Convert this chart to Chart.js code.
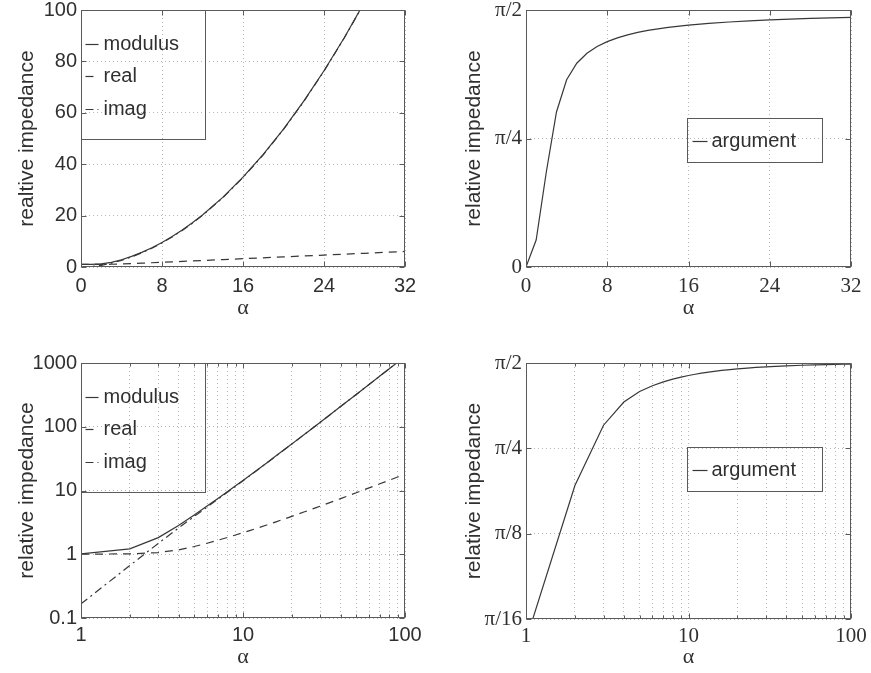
<!DOCTYPE html>
<html>
<head>
<meta charset="utf-8">
<script src="https://cdn.jsdelivr.net/npm/chart.js@4.4.1/dist/chart.umd.min.js"></script>
<style>
  html, body { margin: 0; padding: 0; background: #fff; }
  #wrap { position: relative; width: 871px; height: 673px; overflow: hidden; background: #fff; }
  #wrap canvas { position: absolute; }
</style>
</head>
<body>
<div id="wrap">
  <canvas id="tl" width="435" height="330" style="left:0;top:0"></canvas>
  <canvas id="tr" width="431" height="330" style="left:440px;top:0"></canvas>
  <canvas id="bl" width="435" height="333" style="left:0;top:340px"></canvas>
  <canvas id="br" width="431" height="333" style="left:440px;top:340px"></canvas>
</div>
<script>
// Womersley number alpha and the relative impedance Z / Z_poiseuille
const alpha = [0, 1, 2, 3, 4, 5, 6, 7, 8, 9, 10, 11, 12,
  14, 16, 18, 20, 22, 24, 26, 28, 30, 32,
  40, 50, 60, 70, 80, 90, 100];
const modulus = [1, 1.0147, 1.2122, 1.8236, 2.8321, 4.1357, 5.6900, 7.4920, 9.5434, 11.8444, 14.3960, 17.1975, 20.2491,
  27.1019, 34.9550, 43.8086, 53.6619, 64.5152, 76.3685, 89.2220, 103.0754, 117.9289, 133.7824,
  207.196, 321.464, 460.732, 624.999, 814.267, 1028.535, 1267.803];
const realPart = [1, 1.0009, 1.0136, 1.0641, 1.1714, 1.3224, 1.4895, 1.6596, 1.8312, 2.0038, 2.1771, 2.3510, 2.5253,
  2.8748, 3.2253, 3.5766, 3.9282, 4.2802, 4.6324, 4.9848, 5.3374, 5.6901, 6.0429,
  7.4549, 9.2209, 10.9875, 12.7545, 14.5215, 16.2888, 18.0562];
const imagPart = [0, 0.1666, 0.6649, 1.4810, 2.5785, 3.9186, 5.4916, 7.3059, 9.3661, 11.6737, 14.2304, 17.0360, 20.0910,
  26.9490, 34.8059, 43.6623, 53.5179, 64.3730, 76.2279, 89.0826, 102.9371, 117.7915, 133.6458,
  207.0622, 321.3318, 460.6007, 624.8693, 814.1377, 1028.4060, 1267.6742];
const argument = [0, 0.1651, 0.5808, 0.9477, 1.1443, 1.2454, 1.3060, 1.3474, 1.3777, 1.4008, 1.4190, 1.4337, 1.4458,
  1.4645, 1.4784, 1.4891, 1.4975, 1.5044, 1.5101, 1.5149, 1.5190, 1.5225, 1.5256,
  1.5348, 1.5421, 1.5469, 1.5504, 1.5530, 1.5550, 1.5566];

// axis ticks
const linAlphaTicks = [0, 8, 16, 24, 32];
const linAlphaLabels = ['0', '8', '16', '24', '32'];
const linImpTicks = [0, 20, 40, 60, 80, 100];
const linImpLabels = ['0', '20', '40', '60', '80', '100'];
const argLinTicks = [0, Math.PI / 4, Math.PI / 2];
const argLinLabels = ['0', 'π/4', 'π/2'];
const logAlphaTicks = [1, 2, 3, 4, 5, 6, 7, 8, 9, 10, 20, 30, 40, 50, 60, 70, 80, 90, 100];
const logAlphaLabels = ['1', '', '', '', '', '', '', '', '', '10', '', '', '', '', '', '', '', '', '100'];
const logImpTicks = [0.1, 1, 10, 100, 1000];
const logImpLabels = ['0.1', '1', '10', '100', '1000'];
const argLogTicks = [Math.PI / 16, Math.PI / 8, Math.PI / 4, Math.PI / 2];
const argLogLabels = ['π/16', 'π/8', 'π/4', 'π/2'];

const INK = '#303030';
const LINE = '#383838';
const FRAME = '#5a5a5a';
const GRID = '#b8b8b8';
const SANS = "'Liberation Sans', Arial, Helvetica, sans-serif";
const SERIF = "'Liberation Serif', 'Times New Roman', serif";

function points(values, logX) {
  return alpha.map((a, i) => ({ x: a, y: values[i] })).filter(p => !logX || p.x > 0);
}

function labelFor(ticks, labels) {
  return v => {
    const i = ticks.findIndex(t => Math.abs(t - v) <= 1e-9 * Math.max(1, Math.abs(t)));
    return i >= 0 ? labels[i] : '';
  };
}

// box around the plot area with inward tick marks on all four sides
const framePlugin = {
  id: 'frame',
  afterDatasetsDraw(chart) {
    const { ctx, chartArea: a, scales } = chart;
    const L = Math.round(a.left) + 0.5, R = Math.round(a.right) - 0.5;
    const T = Math.round(a.top) + 0.5, B = Math.round(a.bottom) - 0.5;
    ctx.save();
    ctx.strokeStyle = FRAME;
    ctx.lineWidth = 1;
    ctx.setLineDash([]);
    ctx.strokeRect(L, T, R - L, B - T);
    ctx.beginPath();
    scales.x.ticks.forEach(t => {
      const px = Math.round(scales.x.getPixelForValue(t.value)) + 0.5;
      const len = t.label ? 5 : 3;
      ctx.moveTo(px, B); ctx.lineTo(px, B - len);
      ctx.moveTo(px, T); ctx.lineTo(px, T + len);
    });
    scales.y.ticks.forEach(t => {
      const py = Math.round(scales.y.getPixelForValue(t.value)) + 0.5;
      const len = t.label ? 5 : 3;
      ctx.moveTo(L, py); ctx.lineTo(L + len, py);
      ctx.moveTo(R, py); ctx.lineTo(R - len, py);
    });
    ctx.stroke();
    ctx.restore();
  }
};

// framed legend placed inside the plot area
const boxLegend = {
  id: 'boxLegend',
  afterDraw(chart, args, o) {
    const { ctx, chartArea: a } = chart;
    const x0 = Math.round(a.left + o.x) + 0.5, y0 = Math.round(a.top + o.y) + 0.5;
    ctx.save();
    ctx.strokeStyle = FRAME;
    ctx.lineWidth = 1;
    ctx.strokeRect(x0, y0, o.w, o.h);
    ctx.font = '20px ' + SANS;
    ctx.textBaseline = 'middle';
    ctx.fillStyle = INK;
    chart.data.datasets.forEach((ds, i) => {
      const cy = Math.round(y0 + o.first + i * o.row) + 0.5;
      ctx.strokeStyle = ds.borderColor;
      ctx.lineWidth = ds.borderWidth;
      ctx.setLineDash(ds.borderDash || []);
      ctx.beginPath();
      ctx.moveTo(x0 + o.s0, cy); ctx.lineTo(x0 + o.s1, cy);
      ctx.stroke();
      ctx.setLineDash([]);
      ctx.fillText(ds.label, x0 + o.tx, cy);
    });
    ctx.restore();
  }
};

function dataset(label, values, dash, logX) {
  return {
    label, data: points(values, logX),
    borderColor: LINE, borderWidth: 1.2, borderDash: dash,
    pointRadius: 0, tension: 0, fill: false
  };
}

function xAxis(type, min, max, ticks, labels, font, height, padTick, padTitle) {
  return {
    type, min, max, position: 'bottom',
    afterBuildTicks: s => { s.ticks = ticks.map(v => ({ value: v })); },
    afterFit: s => { s.height = height; s.paddingLeft = 0; s.paddingRight = 0; },
    ticks: { autoSkip: false, maxRotation: 0, minRotation: 0, padding: padTick, color: INK, font,
             callback: labelFor(ticks, labels) },
    grid: { color: GRID, lineWidth: 1, drawTicks: false },
    border: { display: false, dash: [1, 3] },
    title: { display: true, text: 'α', color: INK, font: { family: SERIF, size: 22 },
             padding: { top: 0, bottom: padTitle } }
  };
}

function yAxis(type, min, max, ticks, labels, font, width, title, padTitle) {
  return {
    type, min, max, position: 'left',
    afterBuildTicks: s => { s.ticks = ticks.map(v => ({ value: v })); },
    afterFit: s => { s.width = width; s.paddingTop = 0; s.paddingBottom = 0; },
    ticks: { autoSkip: false, padding: 4, color: INK, font, callback: labelFor(ticks, labels) },
    grid: { color: GRID, lineWidth: 1, drawTicks: false },
    border: { display: false, dash: [1, 3] },
    title: { display: true, text: title, color: INK, font: { family: SANS, size: 21 },
             padding: { top: padTitle, bottom: 0 } }
  };
}

function makeChart(id, datasets, scales, padding, legendBox) {
  return new Chart(document.getElementById(id), {
    type: 'line',
    data: { datasets },
    options: {
      responsive: false, animation: false, events: [],
      layout: { padding },
      plugins: { legend: { display: false }, tooltip: { enabled: false }, boxLegend: legendBox },
      scales
    },
    plugins: [framePlugin, boxLegend]
  });
}

const sansTick = { family: SANS, size: 20 };
const serifTick = { family: SERIF, size: 21 };
const dashReal = [8, 6];
const dashImag = [8, 4, 2, 4];
const threeRows = { x: 0, y: 0, w: 124, h: 129, first: 33, row: 32.5, s0: 4, s1: 17, tx: 22 };
const oneRow = { w: 135, h: 44, first: 22, row: 0, s0: 5, s1: 20, tx: 24 };

// linear scales
makeChart('tl', [
  dataset('modulus', modulus, [], false),
  dataset('real', realPart, dashReal, false),
  dataset('imag', imagPart, dashImag, false)
], {
  x: xAxis('linear', 0, 32, linAlphaTicks, linAlphaLabels, sansTick, 63, 7, 9),
  y: yAxis('linear', 0, 100, linImpTicks, linImpLabels, sansTick, 81, 'realtive impedance', 15)
}, { left: 0, top: 10, right: 30, bottom: 0 }, threeRows);

makeChart('tr', [
  dataset('argument', argument, [], false)
], {
  x: xAxis('linear', 0, 32, linAlphaTicks, linAlphaLabels, serifTick, 63, 7, 9),
  y: yAxis('linear', 0, Math.PI / 2, argLinTicks, argLinLabels, serifTick, 86, 'relative impedance', 22)
}, { left: 0, top: 10, right: 20, bottom: 0 }, Object.assign({ x: 161, y: 108 }, oneRow));

// logarithmic scales
makeChart('bl', [
  dataset('modulus', modulus, [], true),
  dataset('real', realPart, dashReal, true),
  dataset('imag', imagPart, dashImag, true)
], {
  x: xAxis('logarithmic', 1, 100, logAlphaTicks, logAlphaLabels, sansTick, 55, 5, 3),
  y: yAxis('logarithmic', 0.1, 1000, logImpTicks, logImpLabels, sansTick, 81, 'relative impedance', 15)
}, { left: 0, top: 23, right: 30, bottom: 0 }, threeRows);

makeChart('br', [
  dataset('argument', argument, [], true)
], {
  x: xAxis('logarithmic', 1, 100, logAlphaTicks, logAlphaLabels, serifTick, 54, 5, 3),
  y: yAxis('logarithmic', Math.PI / 16, Math.PI / 2, argLogTicks, argLogLabels, serifTick, 86, 'relative impedance', 22)
}, { left: 0, top: 23, right: 20, bottom: 0 }, Object.assign({ x: 161, y: 84 }, oneRow));
</script>
</body>
</html>
